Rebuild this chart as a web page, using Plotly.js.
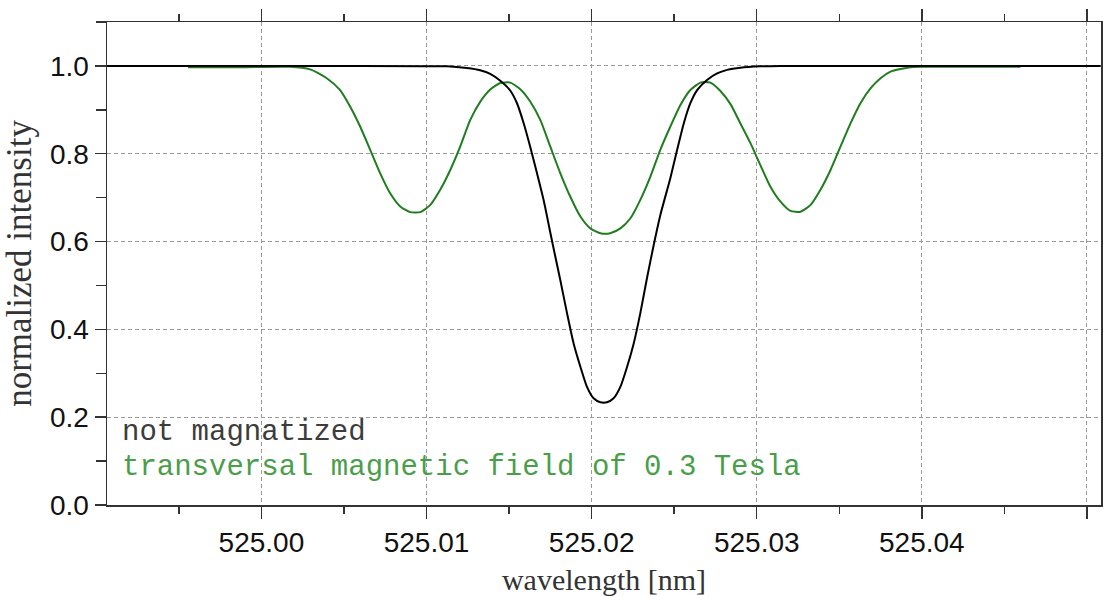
<!DOCTYPE html>
<html>
<head>
<meta charset="utf-8">
<script src="https://cdn.plot.ly/plotly-3.0.1.min.js"></script>
<style>html,body{margin:0;padding:0;background:#fff;}#chart{width:1103px;height:597px;}</style>
</head>
<body>
<div id="chart"></div>
<script>
// wavelength [nm] and normalized intensity
const greenWl = [524.99556, 524.99871, 525.00174, 525.00295, 525.00396, 525.00477, 525.00538, 525.00598, 525.00659, 525.00719,
  525.00780, 525.00841, 525.00901, 525.00962, 525.01022, 525.01083, 525.01144, 525.01204, 525.01265, 525.01325,
  525.01386, 525.01447, 525.01507, 525.01568, 525.01628, 525.01689, 525.01750, 525.01810, 525.01871, 525.01932,
  525.01992, 525.02053, 525.02113, 525.02174, 525.02235, 525.02295, 525.02356, 525.02416, 525.02477, 525.02538,
  525.02598, 525.02659, 525.02719, 525.02780, 525.02841, 525.02901, 525.02962, 525.03022, 525.03083, 525.03144,
  525.03204, 525.03265, 525.03325, 525.03386, 525.03447, 525.03507, 525.03568, 525.03628, 525.03689, 525.03750,
  525.03810, 525.03871, 525.03932, 525.03992, 525.04113, 525.04598];
const greenI = [0.997, 0.997, 0.998, 0.992, 0.972, 0.945, 0.907, 0.862, 0.809, 0.756,
  0.710, 0.680, 0.667, 0.667, 0.683, 0.718, 0.763, 0.816, 0.877, 0.918,
  0.946, 0.961, 0.962, 0.947, 0.919, 0.877, 0.816, 0.756, 0.702, 0.657,
  0.630, 0.619, 0.619, 0.630, 0.653, 0.695, 0.748, 0.809, 0.862, 0.911,
  0.945, 0.962, 0.962, 0.943, 0.913, 0.869, 0.824, 0.774, 0.725, 0.691,
  0.670, 0.668, 0.683, 0.718, 0.763, 0.816, 0.869, 0.915, 0.949, 0.972,
  0.987, 0.993, 0.997, 0.998, 0.998, 0.998];

const blackWl = [524.99065, 525.00235, 525.01124, 525.01245, 525.01325, 525.01386, 525.01447, 525.01507, 525.01548, 525.01588,
  525.01628, 525.01669, 525.01709, 525.01750, 525.01780, 525.01810, 525.01851, 525.01891, 525.01932, 525.01972,
  525.02012, 525.02053, 525.02093, 525.02133, 525.02174, 525.02215, 525.02255, 525.02295, 525.02336, 525.02376,
  525.02416, 525.02477, 525.02518, 525.02558, 525.02598, 525.02639, 525.02699, 525.02760, 525.02821, 525.02901,
  525.03022, 525.03144, 525.05083];
const blackI = [1.0, 1.0, 0.999, 0.995, 0.990, 0.982, 0.966, 0.944, 0.915, 0.870,
  0.816, 0.756, 0.695, 0.620, 0.566, 0.513, 0.437, 0.368, 0.315, 0.269,
  0.243, 0.234, 0.234, 0.243, 0.269, 0.315, 0.368, 0.437, 0.518, 0.592,
  0.660, 0.745, 0.809, 0.869, 0.915, 0.945, 0.968, 0.983, 0.991, 0.996,
  0.999, 1.0, 1.0];

const seriesNames = ['not magnatized', 'transversal magnetic field of 0.3 Tesla'];
const xRange = [524.99065, 525.05085];
const yRange = [0, 1.1];

const traces = [
  {x: greenWl, y: greenI, type: 'scatter', mode: 'lines', name: seriesNames[1],
   line: {color: '#1f7d1f', width: 2, shape: 'spline', smoothing: 0.6}},
  {x: blackWl, y: blackI, type: 'scatter', mode: 'lines', name: seriesNames[0],
   line: {color: '#000000', width: 2, shape: 'spline', smoothing: 0.6}}
];

const axisCommon = {
  showline: true, linecolor: '#333', linewidth: 1.5, mirror: 'allticks',
  ticks: 'outside', tickcolor: '#333', tickwidth: 1.5,
  showgrid: true, gridcolor: '#999', gridwidth: 1, griddash: '4px,3px',
  zeroline: false,
  tickfont: {family: '"Liberation Sans", Arial, sans-serif', size: 28, color: '#111'}
};

const layout = {
  width: 1103, height: 597,
  margin: {l: 107, r: 2, t: 22, b: 92},
  paper_bgcolor: '#fff', plot_bgcolor: '#fff',
  showlegend: false,
  xaxis: Object.assign({}, axisCommon, {
    range: xRange, tick0: 525, dtick: 0.01, tickformat: '.2f', ticklen: 12,
    minor: {dtick: 0.005, ticks: 'outside', ticklen: 7, tickcolor: '#333', tickwidth: 1.5, showgrid: false},
    title: {text: 'wavelength [nm]', standoff: 12,
      font: {family: '"Liberation Serif", "Times New Roman", serif', size: 30, color: '#333'}}
  }),
  yaxis: Object.assign({}, axisCommon, {
    range: yRange, tick0: 0, dtick: 0.2, tickformat: '.1f', ticklen: 11,
    minor: {dtick: 0.1, ticks: 'outside', ticklen: 10, tickcolor: '#333', tickwidth: 1.5, showgrid: false},
    title: {text: 'normalized intensity', standoff: 8,
      font: {family: '"Liberation Serif", "Times New Roman", serif', size: 35, color: '#333'}}
  }),
  annotations: [
    {xref: 'paper', yref: 'paper', x: 0.0131, y: 0.150, xanchor: 'left', yanchor: 'middle', showarrow: false,
     text: seriesNames[0], font: {family: '"Liberation Mono", "Courier New", monospace', size: 29, color: '#3c3c3c'}},
    {xref: 'paper', yref: 'paper', x: 0.0131, y: 0.078, xanchor: 'left', yanchor: 'middle', showarrow: false,
     text: seriesNames[1], font: {family: '"Liberation Mono", "Courier New", monospace', size: 29, color: '#4a9e4a'}}
  ]
};

Plotly.newPlot('chart', traces, layout, {displayModeBar: false, staticPlot: true});
</script>
</body>
</html>
